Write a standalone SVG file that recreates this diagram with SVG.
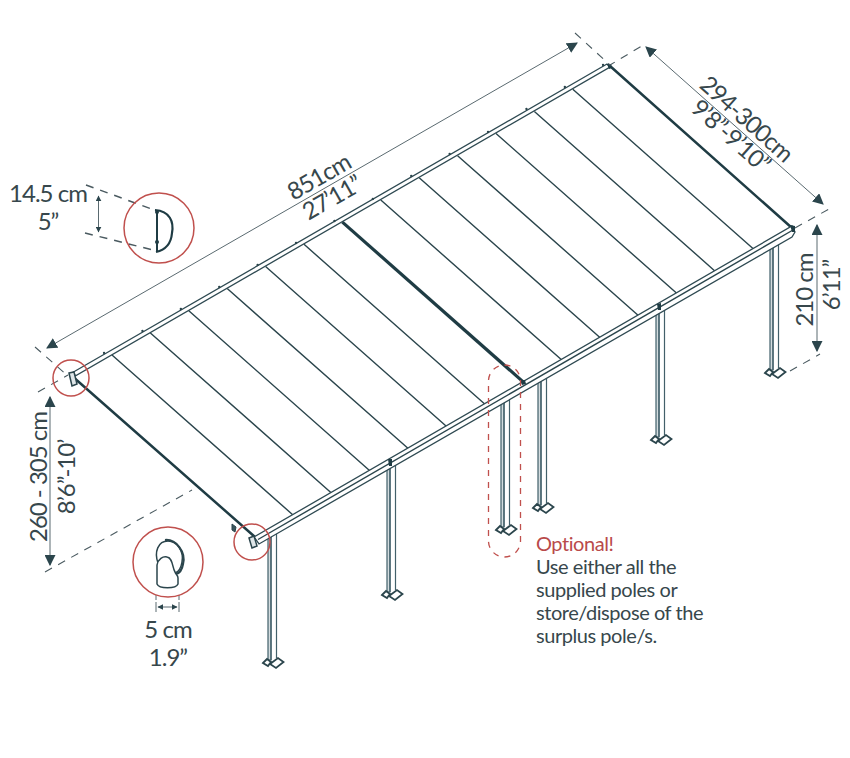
<svg xmlns="http://www.w3.org/2000/svg" width="850" height="758" viewBox="0 0 850 758">
<style>
text{font-family:"Lato","Open Sans","Liberation Sans",sans-serif;fill:#37474c;font-size:24px;letter-spacing:-1px;text-anchor:middle}
.r{fill:#b94a4a}
.l{font-size:20px;letter-spacing:-.45px;text-anchor:start}
.bar{stroke:#2b454c;stroke-width:1.4;fill:none}
.dk{stroke:#1f3c44;stroke-width:3.200;fill:none}
.rail{stroke:#2f4a52;stroke-width:1.300;fill:#fff}
.pl{stroke:#42606a;stroke-width:1.200;fill:#fff}
.dim{stroke:#5a6a70;stroke-width:1;fill:none}
.dash{stroke:#4a5a60;stroke-width:1.100;fill:none;stroke-dasharray:8 7}
.red{stroke:#c0504d;stroke-width:1.500;fill:none}
.cap{fill:#1f3c44}
</style>
<defs>
<marker id="a" viewBox="0 0 10 10" refX="9" refY="5" markerWidth="11" markerHeight="11" markerUnits="userSpaceOnUse" orient="auto-start-reverse"><path d="M0 0L10 5L0 10Z" fill="#2b454c"/></marker>
<marker id="s" viewBox="0 0 10 10" refX="9" refY="5" markerWidth="6" markerHeight="6" markerUnits="userSpaceOnUse" orient="auto-start-reverse"><path d="M0 0L10 5L0 10Z" fill="#2b454c"/></marker>
<g id="pole">
<path d="M0 0V127H3V0Z" fill="#d3dcdf" stroke="#42606a" stroke-width="1.200"/>
<path class="pl" d="M3 0V127M8.500 0V125"/>
<path d="M-5 130L-1 126L3 129L0 133Z" fill="#fff" stroke="#2b454c" stroke-width="1.800"/>
<path d="M2 131L10 125L15.500 129L8 135Z" fill="#fff" stroke="#2b454c" stroke-width="1.800"/>
</g>
</defs>
<g id="poles">
<use href="#pole" x="268" y="533"/>
<use href="#pole" x="387" y="465"/>
<use href="#pole" x="501" y="400"/>
<use href="#pole" x="538" y="378"/>
<use href="#pole" x="656" y="310"/>
<use href="#pole" x="770" y="243"/>
</g>
<g id="roof">
<path d="M70 374L610 65L793 228L255 537Z" fill="#fff"/>
<path class="bar" d="M112 355L293 515M150.400 332.900L331.400 492.900M188.800 310.700L369.800 470.700M227.200 288.600L408.200 448.600M265.600 266.400L446.600 426.400M304 244.300L485 404.300M380.800 200L561.800 360M419.200 177.800L600.200 337.800M457.600 155.700L638.600 315.700M496 133.500L677 293.500M534.400 111.400L715.400 271.400M572.800 89.200L753.800 249.200"/>
<path class="dk" d="M342.400 222.100L523.400 382.100"/>
<path class="dk" style="stroke-width:2.500" d="M72 376L255 537M610 66L792 228"/>
</g>
<g id="rails">
<path class="rail" d="M70 374L607 64L610 67L76 375.500Z"/>
<path class="rail" d="M254 537L792 226L795 232L792 237L259 544Z"/>
<path class="bar" d="M258 539.500L793 230"/>
<path d="M232 524L236 527L235 532L232 530Z" fill="#3a555c" stroke="#2b454c"/>
<path d="M69 373L74 372L77 384L72 386Z" fill="#dfe6e8" stroke="#2b454c" stroke-width="1.500"/>
<path d="M249 538L254 536L257 546L252 548Z" fill="#dfe6e8" stroke="#2b454c" stroke-width="1.500"/>
<path class="cap" d="M607 64L611 64L612 68L609 69ZM790 225L795 226L795 232L792 232ZM388 459L392 459L392 466L389 466ZM657 304L661 303L661 310L658 310ZM520 380L525 380L526 384L522 385Z"/>
<path d="M104 353h.1M142.400 331h.1M180.800 309h.1M219.200 287h.1M257.600 265h.1M296 243h.1M334.400 221h.1M372.800 199h.1M411.200 176h.1M449.600 154h.1M488 132h.1M526.400 109h.1M564.800 87h.1M603 65h.1" stroke="#2b454c" stroke-width="2.300" stroke-linecap="round"/>
</g>
<g id="connectors">
<path class="dim" d="M47 348L577 43" marker-start="url(#a)" marker-end="url(#a)"/>
<path class="dim" d="M646 47L823 204" marker-start="url(#a)" marker-end="url(#a)"/>
<path class="dim" d="M817 225V351" marker-start="url(#a)" marker-end="url(#a)"/>
<path class="dim" d="M50 397V565" marker-start="url(#a)" marker-end="url(#a)"/>
<path class="dim" d="M98.500 196V232" marker-start="url(#s)" marker-end="url(#s)"/>
<path class="dim" d="M158 607H177" marker-start="url(#s)" marker-end="url(#s)"/>
<path class="dim" d="M156 602V612M179 602V612M156 595V600M179 595V600"/>
<path class="dash" d="M35 347L68 376M38 392L68 375M575 33L610 65L645 44M795 228L829 209M790 371L820 354M45 572L192 490"/>
<path class="dash" style="stroke-width:1.500" d="M86 185L157 211M85 233L157 251"/>
</g>
<g id="detail-profile">
<circle class="red" cx="159" cy="228" r="35"/>
<path d="M157 211V252" stroke="#1f3c44" stroke-width="2" fill="none"/>
<circle class="cap" cx="157" cy="212" r="2"/>
<circle class="cap" cx="157" cy="242" r="2"/>
<path d="M155 210C170 211 174 222 172 233C171 245 165 250 156 252" stroke="#1f3c44" stroke-width="2.200" fill="none"/>
</g>
<g id="detail-elbow">
<circle class="red" cx="168" cy="562" r="35"/>
<path d="M158 563C154 552 158 541 168 541C178 541 184 552 182 562C181 568 178 572 175 573Z" fill="#fff" stroke="#2b454c" stroke-width="1.500"/>
<path d="M165 540C176 539 186 552 183 564C182 570 180 573 176 574" fill="none" stroke="#2b454c" stroke-width="2.200"/>
<path d="M157 584V565C158 559 163 556 167 557C173 558 172 567 175 572C176 575 178 575 178 578V584C176 589 159 589 157 584Z" fill="#fff" stroke="#2b454c" stroke-width="1.500"/>
</g>
<g id="marker-circles">
<circle class="red" cx="71" cy="378" r="18"/>
<circle class="red" cx="252" cy="542" r="18"/>
</g>
<g id="optional">
<rect x="488.500" y="365" width="32" height="192" rx="16" fill="none" stroke="#c0504d" stroke-width="1.300" stroke-dasharray="6 6"/>
</g>
<g id="labels">
<text x="48" y="202">14.5 cm</text>
<text x="48" y="230">5”</text>
<text transform="translate(323 184) rotate(-29.800)">851cm</text>
<text transform="translate(336 205) rotate(-29.800)">27’11”</text>
<text transform="translate(741 125) rotate(41.700)">294-300cm</text>
<text transform="translate(725 142) rotate(41.700)">9’8”-9’10”</text>
<text transform="translate(813 290) rotate(-90)">210 cm</text>
<text transform="translate(840 285) rotate(-90)">6’11”</text>
<text transform="translate(47 477) rotate(-90)">260 - 305 cm</text>
<text transform="translate(75 477) rotate(-90)">8’6”-10’</text>
<text x="168" y="638">5 cm</text>
<text x="168" y="666">1.9”</text>
<text class="l r" x="536" y="551">Optional!</text>
<text class="l" x="536" y="574">Use either all the</text>
<text class="l" x="536" y="597">supplied poles or</text>
<text class="l" x="536" y="620">store/dispose of the</text>
<text class="l" x="536" y="643">surplus pole/s.</text>
</g>
</svg>
